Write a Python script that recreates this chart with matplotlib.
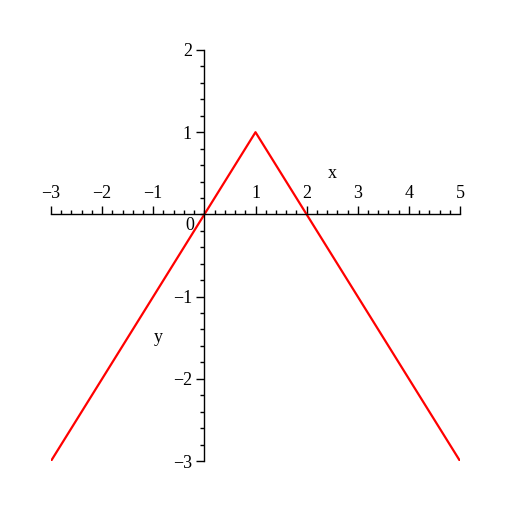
import matplotlib
matplotlib.use('Agg')
import matplotlib.pyplot as plt
from matplotlib.ticker import MultipleLocator, FixedLocator, FixedFormatter

# vertices of y = 1 - |x - 1|
x_pts = [-3, 1, 5]
y_pts = [-3, 1, -3]

x_ticks = [-3, -2, -1, 1, 2, 3, 4, 5]
y_ticks = [-3, -2, -1, 1, 2]

plt.rcParams['font.family'] = ['Liberation Serif', 'DejaVu Serif']

fig = plt.figure(figsize=(5.12, 5.12), dpi=100)
ax = fig.add_axes([51 / 512, 51 / 512, 409 / 512, 411 / 512])

ax.plot(x_pts, y_pts, color='red', linewidth=1.6)

ax.set_xlim(-3, 5)
ax.set_ylim(-3, 2)

# axes through the origin, Maple style
ax.spines['bottom'].set_visible(False)
ax.spines['right'].set_visible(False)
ax.spines['top'].set_position(('data', 0))
ax.spines['left'].set_position(('data', 0))
for s in ['top', 'left']:
    ax.spines[s].set_linewidth(1.0)

ax.xaxis.set_ticks_position('top')
ax.xaxis.set_major_locator(FixedLocator(x_ticks))
ax.xaxis.set_major_formatter(FixedFormatter([str(v).replace('-', '\u2212') for v in x_ticks]))
ax.xaxis.set_minor_locator(MultipleLocator(0.2))

ax.yaxis.set_major_locator(FixedLocator(y_ticks))
ax.yaxis.set_major_formatter(FixedFormatter([str(v).replace('-', '\u2212') for v in y_ticks]))
ax.yaxis.set_minor_locator(MultipleLocator(0.2))

ax.tick_params(which='major', direction='out', length=6, width=1, labelsize=13, pad=3)
ax.tick_params(which='minor', direction='out', length=3, width=1)

ax.text(-0.2, -0.03, '0', ha='right', va='top', fontsize=13)
ax.text(2.5, 0.5, 'x', ha='center', va='center', fontsize=13)
ax.text(-0.9, -1.5, 'y', ha='center', va='center', fontsize=13)

fig.savefig('out.png', dpi=100)
